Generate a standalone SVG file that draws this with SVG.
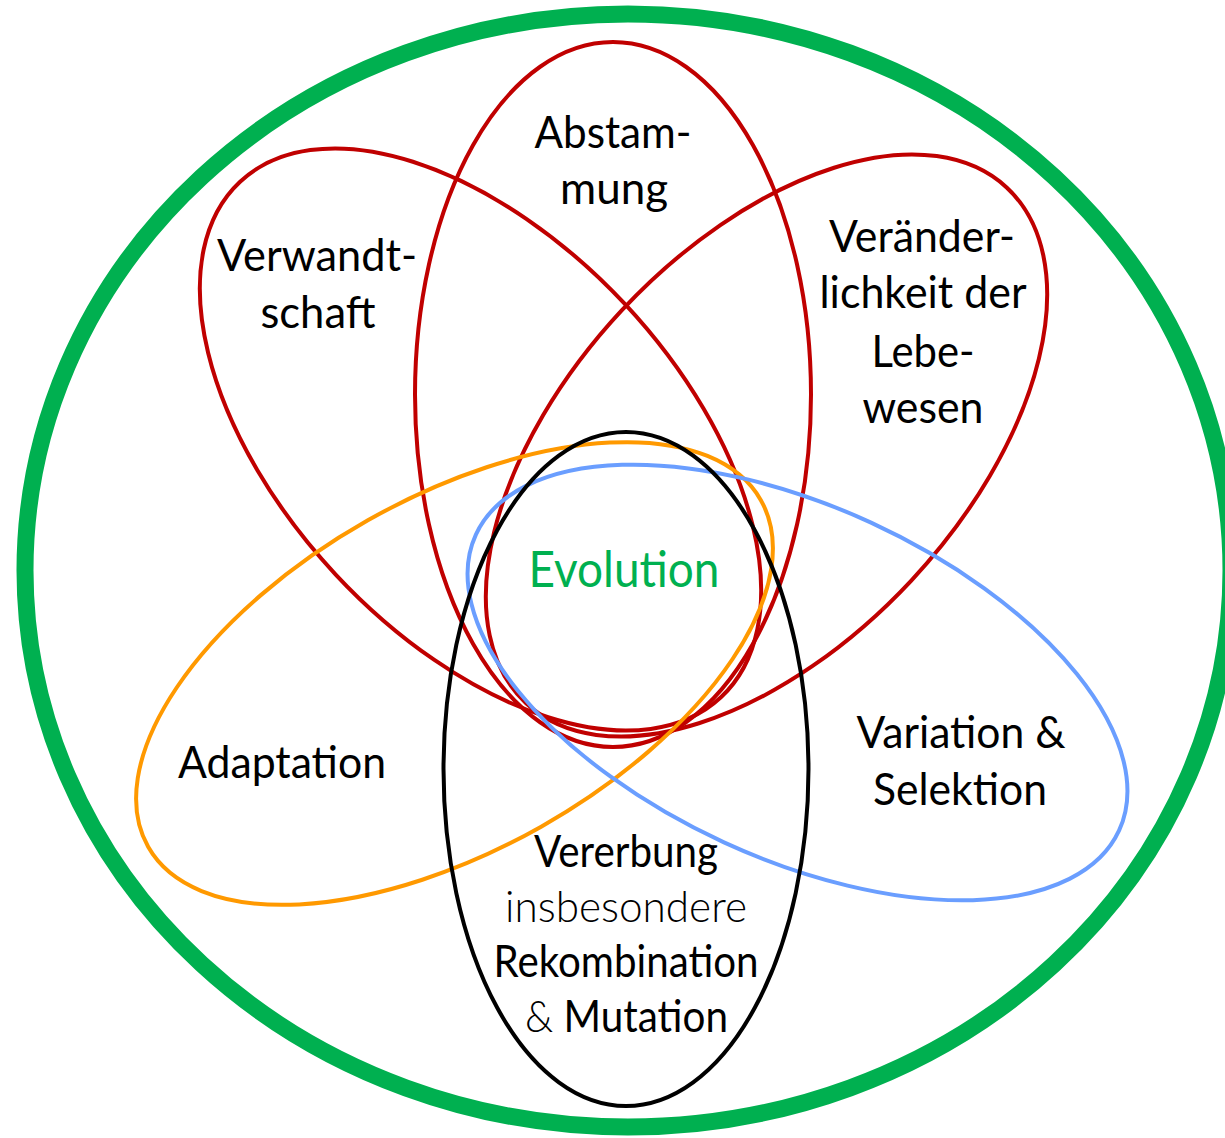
<svg xmlns="http://www.w3.org/2000/svg" width="1225" height="1138" viewBox="0 0 1225 1138">
<style>
.sh{fill:none;stroke-width:4}
.red{stroke:#C00000}
.t{font-family:Lato,"Open Sans","Liberation Sans",sans-serif;font-size:44px;fill:#000;text-anchor:middle}
.lt{font-weight:300}
</style>
<rect width="1225" height="1138" fill="#fff"/>
<g id="frame">
<ellipse cx="628" cy="570.5" rx="603" ry="556.5" fill="none" stroke="#00B050" stroke-width="17"/>
</g>
<g id="abstammung">
<ellipse class="sh red" cx="613" cy="394.5" rx="198" ry="352.5"/>
<text class="t" x="613" y="148" textLength="157" lengthAdjust="spacingAndGlyphs">Abstam-</text>
<text class="t" x="614" y="204" textLength="108" lengthAdjust="spacingAndGlyphs">mung</text>
</g>
<g id="verwandtschaft">
<ellipse class="sh red" cx="480.5" cy="439.5" rx="198" ry="352.5" transform="rotate(-43 480.5 439.5)"/>
<text class="t" x="317" y="271" textLength="200" lengthAdjust="spacingAndGlyphs">Verwandt-</text>
<text class="t" x="318" y="328" textLength="115" lengthAdjust="spacingAndGlyphs">schaft</text>
</g>
<g id="veraenderlichkeit">
<ellipse class="sh red" cx="766.5" cy="445.5" rx="198" ry="352.5" transform="rotate(43 766.5 445.5)"/>
<text class="t" x="922" y="252" textLength="186" lengthAdjust="spacingAndGlyphs">Veränder-</text>
<text class="t" x="923" y="308" textLength="207" lengthAdjust="spacingAndGlyphs">lichkeit der</text>
<text class="t" x="923" y="367" textLength="103" lengthAdjust="spacingAndGlyphs">Lebe-</text>
<text class="t" x="923" y="423" textLength="121" lengthAdjust="spacingAndGlyphs">wesen</text>
</g>
<g id="adaptation">
<ellipse class="sh" stroke="#FF9900" cx="454.5" cy="673.5" rx="176" ry="352" transform="rotate(60.5 454.5 673.5)"/>
<text class="t" x="282" y="778" textLength="208" lengthAdjust="spacingAndGlyphs">Adaptation</text>
</g>
<g id="variation">
<ellipse class="sh" stroke="#6A9EFF" cx="797.5" cy="682.5" rx="176" ry="354" transform="rotate(-65.3 797.5 682.5)"/>
<text class="t" x="961" y="748" textLength="209" lengthAdjust="spacingAndGlyphs">Variation &amp;</text>
<text class="t" x="960" y="805" textLength="174" lengthAdjust="spacingAndGlyphs">Selektion</text>
</g>
<g id="vererbung">
<ellipse class="sh" stroke="#000" cx="626" cy="769" rx="182.5" ry="337"/>
<text class="t" x="626" y="867" textLength="184" lengthAdjust="spacingAndGlyphs">Vererbung</text>
<text class="t lt" x="626" y="922" textLength="242" lengthAdjust="spacingAndGlyphs">insbesondere</text>
<text class="t" x="626" y="977" textLength="265" lengthAdjust="spacingAndGlyphs">Rekombination</text>
<text class="t" x="626.5" y="1032" textLength="203" lengthAdjust="spacingAndGlyphs"><tspan class="lt">&amp;</tspan> Mutation</text>
</g>
<g id="evolution">
<text class="t" x="624" y="587" style="fill:#00B050;font-size:50px" textLength="191" lengthAdjust="spacingAndGlyphs">Evolution</text>
</g>
</svg>
